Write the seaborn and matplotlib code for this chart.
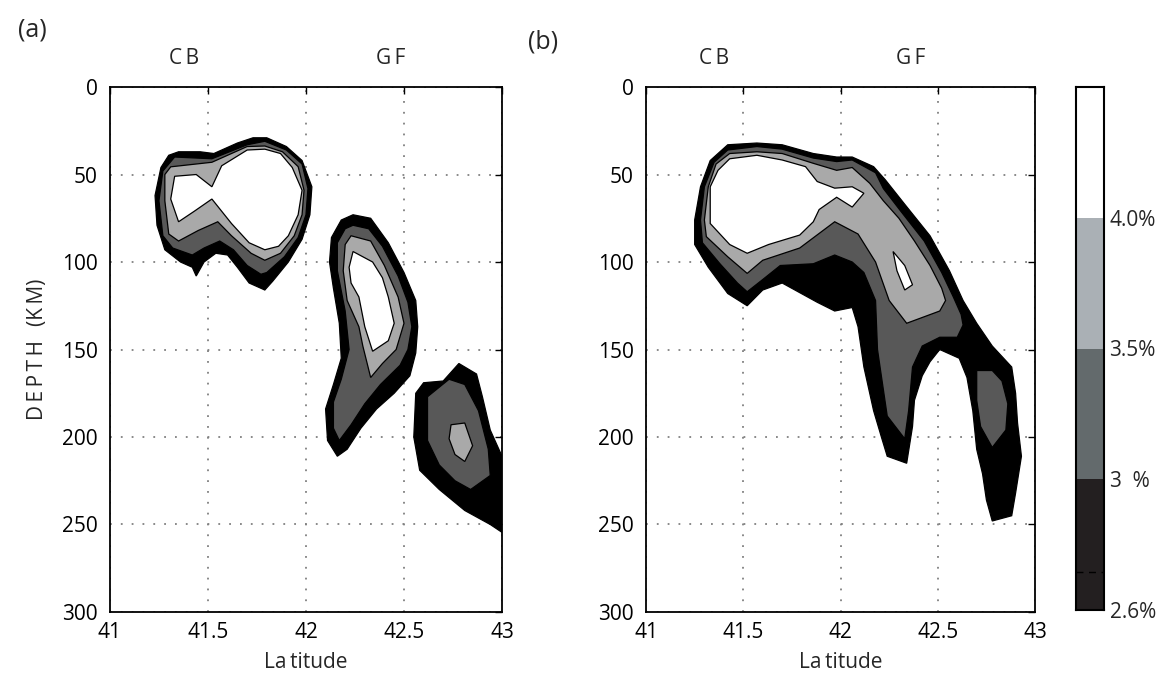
import numpy as np
import matplotlib
matplotlib.use("Agg")
import matplotlib.pyplot as plt
from matplotlib.colors import ListedColormap
import seaborn as sns

# ---------------- data: contour outlines (latitude, depth km) ----
# levels: 26 -> >=2.6%, 30 -> >=3.0%, 35 -> >=3.5%, 40 -> >=4.0%
A_CB_26 = [(41.35,37),(41.46,37),(41.53,38),(41.65,32),(41.73,29),(41.80,29),(41.90,34),
           (41.98,42),(42.03,57),(42.02,73),(41.98,87),(41.91,100),(41.83,111),(41.79,116),
           (41.71,112),(41.65,103),(41.60,96),(41.54,95),(41.48,100),(41.44,108),(41.42,103),
           (41.36,100),(41.28,93),(41.24,79),(41.23,62),(41.26,46),(41.30,39)]
A_CB_30 = [(41.33,40),(41.52,41),(41.70,33),(41.79,31),(41.90,36),(41.98,44),(42.01,58),
           (42.00,73),(41.96,86),(41.89,97),(41.80,106),(41.77,107),(41.70,102),(41.63,93),
           (41.56,88),(41.48,92),(41.42,96),(41.32,92),(41.27,85),(41.25,65),(41.27,48)]
A_CB_35 = [(41.31,45.6),(41.52,43),(41.70,34),(41.79,33.7),(41.88,37),(41.96,45.5),(41.99,59),
           (41.98,73),(41.94,85),(41.87,95),(41.79,99),(41.72,95),(41.62,85),(41.55,77),
           (41.45,82),(41.35,88),(41.30,84),(41.28,65),(41.28,50)]
A_CB_40 = [(41.33,51),(41.44,50),(41.52,57),(41.57,45),(41.70,36),(41.79,35.5),(41.87,38),
           (41.93,46),(41.98,59),(41.96,73),(41.91,85),(41.86,91),(41.79,93),(41.71,89),
           (41.62,78),(41.52,64),(41.43,71),(41.35,77),(41.31,64)]

A_GF_26 = [(42.24,73),(42.33,75),(42.42,89),(42.50,106),(42.56,122),(42.57,137),(42.56,152),
           (42.53,165),(42.45,175),(42.36,184),(42.28,195),(42.21,207),(42.16,211),(42.11,202),
           (42.10,184),(42.14,170),(42.18,155),(42.17,135),(42.14,115),(42.12,100),(42.13,86),
           (42.18,76)]
A_GF_30 = [(42.24,79),(42.32,81),(42.39,91),(42.47,108),(42.52,123),(42.54,137),(42.52,150),
           (42.48,159),(42.38,170),(42.30,181),(42.23,193),(42.17,202),(42.14,195),(42.14,180),
           (42.18,167),(42.22,150),(42.20,128),(42.16,105),(42.16,89),(42.20,81)]
A_GF_35 = [(42.23,85),(42.33,88),(42.40,102),(42.47,120),(42.50,135),(42.46,150),(42.39,158),
           (42.33,166),(42.29,148),(42.27,137),(42.21,122),(42.19,105),(42.20,90)]
A_GF_40 = [(42.24,94),(42.34,100),(42.39,109),(42.42,120),(42.45,135),(42.42,145),(42.34,151),
           (42.30,137),(42.27,120),(42.23,112),(42.22,103)]

A_SE_26 = [(42.60,169),(42.70,168),(42.78,158),(42.87,164),(42.90,177),(42.94,196),(43.02,216),
           (43.02,256),(42.94,250),(42.81,242),(42.68,230),(42.58,219),(42.55,200),(42.56,175)]
A_SE_30 = [(42.62,177),(42.73,167),(42.81,170),(42.88,185),(42.93,207),(42.94,222),(42.84,230),
           (42.76,225),(42.68,216),(42.62,202),(42.62,185)]
A_SE_35 = [(42.74,193),(42.81,192),(42.85,205),(42.81,214),(42.76,210),(42.73,201)]

B_MAIN_26 = [(41.42,33),(41.57,32),(41.70,33),(41.86,38),(41.98,40),(42.06,40),(42.17,45.5),
             (42.23,53),(42.33,67),(42.46,85),(42.56,105),(42.63,122),(42.70,135),(42.78,148),
             (42.88,160),(42.90,175),(42.91,192),(42.93,211),(42.90,232),(42.88,245),(42.78,248),
             (42.75,236),(42.73,221),(42.70,207),(42.68,185),(42.65,166),(42.61,155),(42.51,150),
             (42.46,157),(42.42,165),(42.38,179),(42.37,194),(42.34,215),(42.24,211),(42.21,200),
             (42.17,185),(42.12,160),(42.09,137),(42.06,126),(41.97,128),(41.88,123),(41.70,112),
             (41.60,116),(41.52,125),(41.42,118),(41.32,103),(41.25,90),(41.25,76),(41.28,57),
             (41.33,42)]
B_MAIN_30 = [(41.42,36),(41.57,34),(41.70,35.5),(41.86,40.6),(41.98,42.6),(42.06,41.7),(42.18,49),
             (42.22,58),(42.31,71),(42.43,88),(42.52,106),(42.58,120),(42.62,130),(42.63,136),
             (42.60,143),(42.51,143),(42.42,148),(42.37,160),(42.35,185),(42.33,201),(42.24,188),
             (42.19,150),(42.18,122),(42.12,106),(42.06,100),(41.97,96),(41.86,101),(41.69,102),
             (41.60,110),(41.52,117),(41.47,112),(41.38,101),(41.29,89),(41.28,76),(41.30,57),
             (41.35,43)]
B_R_30 = [(42.70,162),(42.78,162),(42.83,168),(42.86,181),(42.85,196),(42.78,206),(42.72,194),
          (42.70,179)]
B_MAIN_35 = [(41.43,38),(41.57,37),(41.70,38),(41.86,43.6),(41.98,47.6),(42.06,46),(42.15,55),
             (42.22,65),(42.30,75),(42.38,88),(42.46,102),(42.52,115),(42.54,122),(42.51,128),
             (42.34,135),(42.25,122),(42.18,100),(42.09,84),(41.97,77),(41.79,92),(41.60,99),
             (41.52,106.5),(41.42,97),(41.31,85.5),(41.30,76),(41.32,57),(41.36,44)]
B_MAIN_40 = [(41.43,41),(41.57,39),(41.70,41.7),(41.82,45.5),(41.88,54),(41.97,57.8),(42.06,57),
             (42.12,60.7),(42.06,68.6),(41.98,63),(41.89,70),(41.86,77),(41.79,84.6),(41.63,90),
             (41.52,95),(41.43,90),(41.33,78),(41.33,57),(41.37,47.6)]
B_ISL_40 = [(42.27,94),(42.33,102),(42.37,113),(42.33,116),(42.29,105)]

LEVEL_COLORS = {26: "#000000", 30: "#585858", 35: "#a9a9a9", 40: "#ffffff"}
PANEL_A = [(26, A_CB_26), (26, A_GF_26), (26, A_SE_26),
           (30, A_CB_30), (30, A_GF_30), (30, A_SE_30),
           (35, A_CB_35), (35, A_GF_35), (35, A_SE_35),
           (40, A_CB_40), (40, A_GF_40)]
PANEL_B = [(26, B_MAIN_26), (30, B_MAIN_30), (30, B_R_30),
           (35, B_MAIN_35), (40, B_MAIN_40), (40, B_ISL_40)]

LAT_TICKS = [41, 41.5, 42, 42.5, 43]
LAT_TICK_LABELS = ["41", "41.5", "42", "42.5", "43"]
DEPTH_TICKS = [0, 50, 100, 150, 200, 250, 300]
SITES = ["C\u2009B", "G\u2009F"]
SITE_LAT_A = [41.38, 42.43]
SITE_LAT_B = [41.35, 42.36]

CBAR_COLORS = ["#231f20", "#636a6c", "#aab0b5", "#ffffff"]
CBAR_LABELS = ["4.0%", "3.5%", "3  %", "2.6%"]

# ---------------- figure ----------------
sns.set_theme(style="white")
plt.rcParams["font.family"] = ["Open Sans", "DejaVu Sans"]

fig = plt.figure(figsize=(11.71, 6.88), dpi=100)
ax_a = fig.add_axes([0.0939, 0.1105, 0.3348, 0.763])
ax_b = fig.add_axes([0.5517, 0.1105, 0.3322, 0.763])
cax = fig.add_axes([1076/1171, 78/688, 28/1171, 523/688])

def draw_panel(ax, polys, site_lats):
    for lev, pts in polys:
        arr = np.array(pts, dtype=float)
        ax.fill(arr[:, 0], arr[:, 1], facecolor=LEVEL_COLORS[lev],
                edgecolor="black", linewidth=0.9, zorder=3)
    ax.set_xlim(41, 43)
    ax.set_ylim(300, 0)
    ax.set_xticks(LAT_TICKS)
    ax.set_xticklabels(LAT_TICK_LABELS)
    ax.set_yticks(DEPTH_TICKS)
    ax.set_axisbelow(True)
    ax.grid(True, color="#808080", linestyle=(0, (1, 5)), linewidth=1.3)
    ax.tick_params(direction="in", length=5, width=1, top=True, right=True,
                   labelsize=15, colors="black")
    ax.tick_params(axis="x", pad=7)
    ax.tick_params(axis="y", pad=9)
    for s in ax.spines.values():
        s.set_visible(True)
        s.set_color("black")
        s.set_linewidth(1.3)
        s.set_zorder(5)
    ax.set_xlabel("La\u2009titude", fontsize=15, labelpad=7)
    for name, lat in zip(SITES, site_lats):
        ax.text(lat, 1.035, name, transform=ax.get_xaxis_transform(),
                ha="center", va="bottom", fontsize=15)

draw_panel(ax_a, PANEL_A, SITE_LAT_A)
draw_panel(ax_b, PANEL_B, SITE_LAT_B)
ax_a.set_ylabel("D\u2009E\u2009P\u2009T\u2009H\u2002\u2009(K\u2009M)", fontsize=15, labelpad=10)

# colorbar strip via seaborn heatmap
cb_data = np.array([[3], [2], [1], [0]])
sns.heatmap(cb_data, ax=cax, cmap=ListedColormap(CBAR_COLORS), vmin=-0.5, vmax=3.5,
            cbar=False, xticklabels=False, yticklabels=False)
cax.set_yticks([1, 2, 3, 4])
cax.set_yticklabels(CBAR_LABELS, fontsize=15)
cax.yaxis.tick_right()
cax.tick_params(axis="y", length=0, pad=4, labelrotation=0)
cax.set_ylim(4, 0)
cax.axhline(3.71, color="black", linestyle=(0, (5, 4)), linewidth=1)
for s in cax.spines.values():
    s.set_visible(True)
    s.set_color("black")
    s.set_linewidth(1.5)

fig.text(18/1171, 1 - 30/688, "(a)", fontsize=18, ha="left", va="center")
fig.text(528/1171, 1 - 42/688, "(b)", fontsize=18, ha="left", va="center")

fig.savefig("out.png", dpi=100)
